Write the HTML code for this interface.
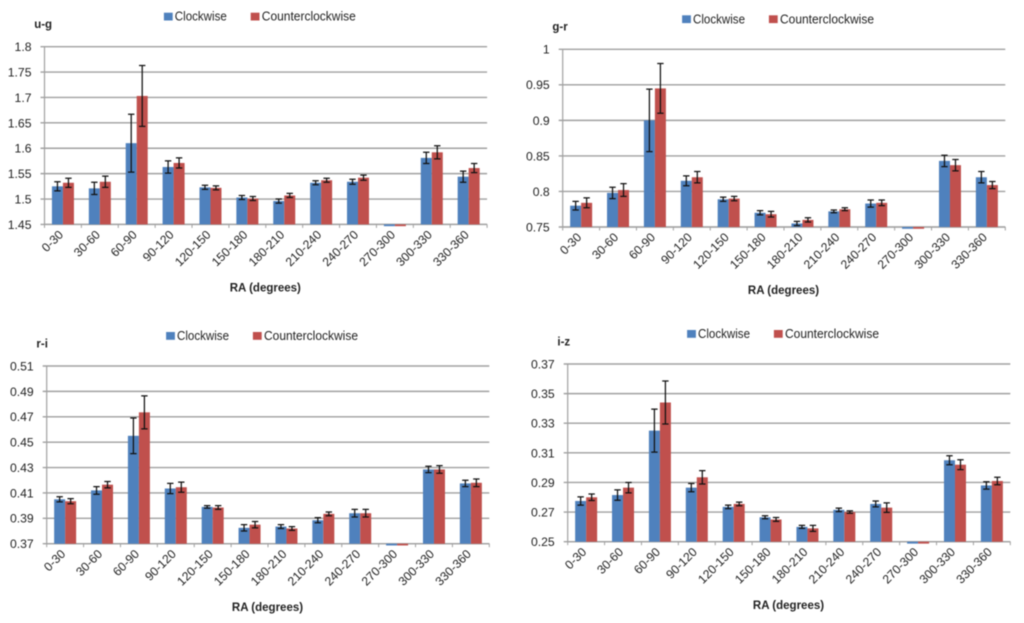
<!DOCTYPE html>
<html lang="en">
<head>
<meta charset="utf-8">
<title>Color by RA charts</title>
<style>
html,body{margin:0;padding:0;background:#fff;width:1024px;height:623px;overflow:hidden}
svg{display:block;filter:blur(0.5px)}
text{font-family:"Liberation Sans",sans-serif;fill:#222}
</style>
</head>
<body>
<svg id="charts" xmlns="http://www.w3.org/2000/svg" width="1024" height="623" viewBox="0 0 1024 623"></svg>
<script>
const categories = ['0-30','30-60','60-90','90-120','120-150','150-180','180-210','210-240','240-270','270-300','300-330','330-360'];

const ugTicks = ['1.45','1.5','1.55','1.6','1.65','1.7','1.75','1.8'];
const ugClockwise = [1.525,1.521,1.61,1.563,1.523,1.503,1.496,1.532,1.534,1.4465,1.581,1.544];
const ugClockwiseErr = [0.009,0.012,0.057,0.012,0.004,0.004,0.004,0.004,0.005,0,0.011,0.011];
const ugCounter = [1.532,1.534,1.703,1.571,1.522,1.501,1.507,1.537,1.542,1.4465,1.592,1.561];
const ugCounterErr = [0.009,0.011,0.06,0.01,0.004,0.004,0.004,0.004,0.005,0,0.013,0.009];

const grTicks = ['0.75','0.8','0.85','0.9','0.95','1'];
const grClockwise = [0.78,0.798,0.9,0.815,0.789,0.77,0.755,0.772,0.783,0.7475,0.843,0.82];
const grClockwiseErr = [0.006,0.008,0.044,0.007,0.003,0.003,0.003,0.002,0.005,0,0.008,0.008];
const grCounter = [0.784,0.802,0.945,0.82,0.79,0.768,0.76,0.775,0.784,0.7475,0.837,0.809];
const grCounterErr = [0.007,0.009,0.035,0.008,0.003,0.004,0.003,0.002,0.004,0,0.008,0.005];

const riTicks = ['0.37','0.39','0.41','0.43','0.45','0.47','0.49','0.51'];
const riClockwise = [0.405,0.412,0.455,0.4135,0.399,0.3825,0.3835,0.3885,0.394,0.3686,0.4285,0.4175];
const riClockwiseErr = [0.002,0.003,0.014,0.004,0.001,0.0025,0.0015,0.002,0.003,0,0.0025,0.0025];
const riCounter = [0.4035,0.4165,0.4735,0.4145,0.3985,0.385,0.382,0.3935,0.394,0.3686,0.4285,0.418];
const riCounterErr = [0.002,0.0025,0.013,0.004,0.0015,0.0025,0.0015,0.0015,0.003,0,0.003,0.003];

const izTicks = ['0.25','0.27','0.29','0.31','0.33','0.35','0.37'];
const izClockwise = [0.2775,0.2815,0.325,0.2865,0.2735,0.2665,0.26,0.2715,0.2755,0.2487,0.305,0.288];
const izClockwiseErr = [0.0028,0.0035,0.0145,0.0028,0.0012,0.001,0.001,0.0012,0.002,0,0.003,0.0025];
const izCounter = [0.28,0.2865,0.344,0.2935,0.2755,0.265,0.259,0.27,0.273,0.2487,0.302,0.291];
const izCounterErr = [0.0022,0.0035,0.0145,0.0045,0.0012,0.0013,0.002,0.0008,0.0032,0,0.0033,0.0025];

const NS = 'http://www.w3.org/2000/svg';
const root = document.getElementById('charts');
const BLUE = '#4f81bd';
const RED = '#c0504d';
const PLOT_W = 442.6;
const PLOT_H = 177.7;

function make(parent, tag, attrs, text) {
  const el = document.createElementNS(NS, tag);
  for (const k in attrs) el.setAttribute(k, attrs[k]);
  if (text !== undefined) el.textContent = text;
  parent.appendChild(el);
  return el;
}

function drawSeries(plot, name, color, values, errs, side, xBand, yScale, bottom) {
  const barW = 11;
  values.forEach(function (v, i) {
    const x = xBand(i) + (side < 0 ? -barW : 0);
    const yv = yScale(v);
    const bar = make(plot, 'rect', {x: x, y: Math.min(yv, bottom), width: barW, height: Math.max(Math.abs(bottom - yv), 0.5), fill: color});
    
    
  });
  values.forEach(function (v, i) {
    if (!errs[i]) return;
    const cx = xBand(i) + side * barW / 2;
    const yTop = yScale(v + errs[i]);
    const yBot = yScale(v - errs[i]);
    const err = make(plot, 'path', {d: 'M' + cx + ' ' + yTop + 'V' + yBot + 'M' + (cx - 3.2) + ' ' + yTop + 'H' + (cx + 3.2) + 'M' + (cx - 3.2) + ' ' + yBot + 'H' + (cx + 3.2), stroke: '#111', 'stroke-width': 1.25, fill: 'none'});
    
    
  });
}

function drawChart(title, left, top, ticks, cw, cwErr, ccw, ccwErr) {
  const chart = make(root, 'g', {});
  
  

  const bottom = top + PLOT_H;
  const right = left + PLOT_W;
  const minV = parseFloat(ticks[0]);
  const maxV = parseFloat(ticks[ticks.length - 1]);
  const yScale = function (v) { return bottom - (v - minV) / (maxV - minV) * PLOT_H; };
  const band = PLOT_W / categories.length;
  const xBand = function (i) { return left + band * (i + 0.5); };

  const label = make(chart, 'text', {x: left - 10.3, y: top - 18.7, 'font-size': 11.5, 'font-weight': 'bold'}, title);
  
  

  const legend = make(chart, 'g', {});
  
  
  const sw1 = make(legend, 'rect', {x: left + 119.4, y: top - 34, width: 8.8, height: 7.8, fill: BLUE});
  
  
  const lt1 = make(legend, 'text', {x: left + 130.3, y: top - 26, 'font-size': 12.5, textLength: 52, lengthAdjust: 'spacingAndGlyphs'}, 'Clockwise');
  
  
  const sw2 = make(legend, 'rect', {x: left + 206.2, y: top - 34, width: 8.8, height: 7.8, fill: RED});
  
  
  const lt2 = make(legend, 'text', {x: left + 217.3, y: top - 26, 'font-size': 12.5, textLength: 94, lengthAdjust: 'spacingAndGlyphs'}, 'Counterclockwise');
  
  

  ticks.forEach(function (t) {
    const y = yScale(parseFloat(t));
    const grid = make(chart, 'line', {x1: left - 4, x2: right, y1: y, y2: y, stroke: '#a0a0a0', 'stroke-width': 1.4});
    
    
    const tl = make(chart, 'text', {x: left - 13, y: y + 4.4, 'font-size': 12.2, 'text-anchor': 'end'}, t);
    
    
  });

  const yAxis = make(chart, 'line', {x1: left, x2: left, y1: top, y2: bottom, stroke: '#a0a0a0', 'stroke-width': 1.2});
  
  

  const xAxis = make(chart, 'line', {x1: left, x2: right, y1: bottom, y2: bottom, stroke: '#a0a0a0', 'stroke-width': 1.2});
  
  

  for (let i = 0; i <= categories.length; i++) {
    const tx = left + band * i;
    const tick = make(chart, 'line', {x1: tx, x2: tx, y1: bottom, y2: bottom + 3.5, stroke: '#a0a0a0', 'stroke-width': 1});
    
    
  }

  const plot = make(chart, 'g', {});
  
  
  drawSeries(plot, 'clockwise', BLUE, cw, cwErr, -1, xBand, yScale, bottom);
  drawSeries(plot, 'counterclockwise', RED, ccw, ccwErr, 1, xBand, yScale, bottom);

  categories.forEach(function (c, i) {
    const ax = xBand(i) + 1;
    const ay = bottom + 11;
    const xl = make(chart, 'text', {x: ax, y: ay, 'font-size': 12.2, 'text-anchor': 'end', transform: 'rotate(-45 ' + ax + ' ' + ay + ')'}, c);
    
    
  });

  const axisTitle = make(chart, 'text', {x: left + PLOT_W / 2 - 0.5, y: bottom + 67.2, 'font-size': 11.5, 'font-weight': 'bold', 'text-anchor': 'middle'}, 'RA (degrees)');
  
  
}

drawChart('u-g', 44.5, 46.7, ugTicks, ugClockwise, ugClockwiseErr, ugCounter, ugCounterErr);
drawChart('g-r', 562.7, 49.3, grTicks, grClockwise, grClockwiseErr, grCounter, grCounterErr);
drawChart('r-i', 46.7, 366, riTicks, riClockwise, riClockwiseErr, riCounter, riCounterErr);
drawChart('i-z', 567.7, 364, izTicks, izClockwise, izClockwiseErr, izCounter, izCounterErr);
</script>
</body>
</html>
